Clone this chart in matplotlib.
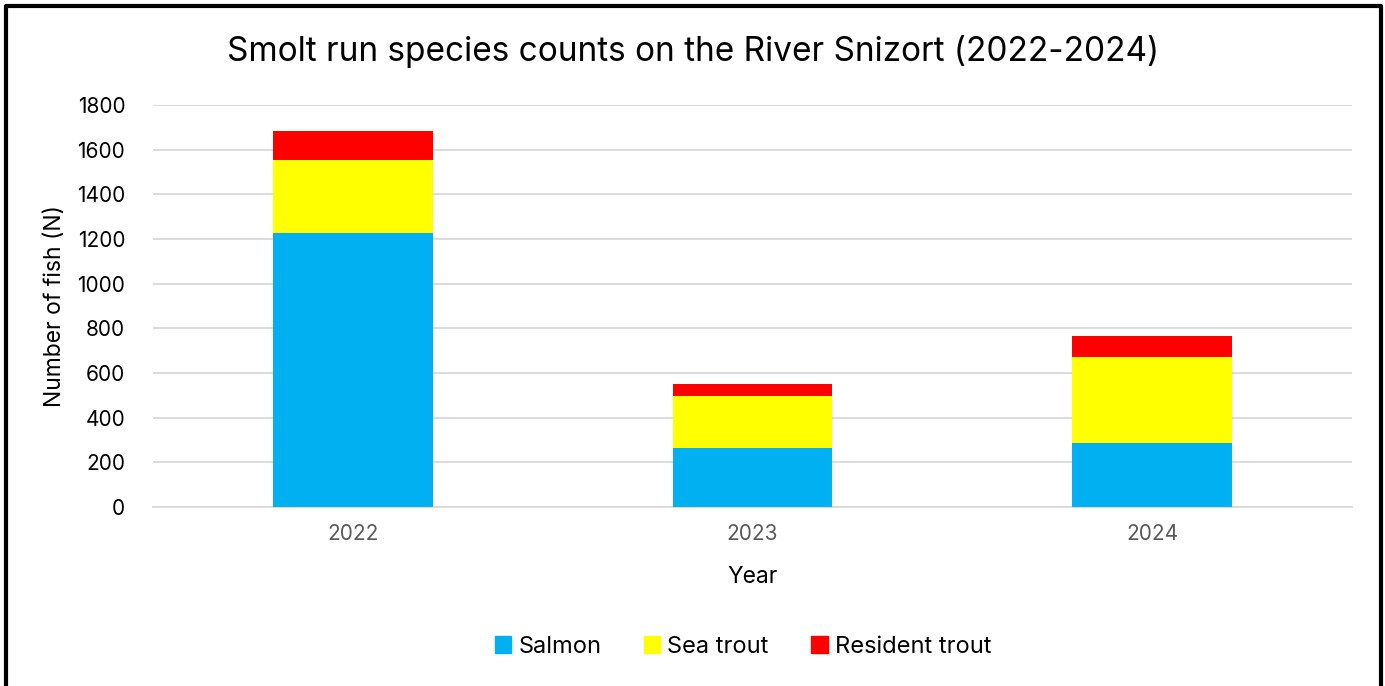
import matplotlib.pyplot as plt
import matplotlib.patches as mpatches
from matplotlib.lines import Line2D
import numpy as np

plt.rcParams['font.family'] = ['Inter', 'DejaVu Sans']

years = ['2022', '2023', '2024']
salmon = [1228, 266, 288]
sea_trout = [327, 229, 382]
resident_trout = [127, 55, 96]

colors = ['#00B0F0', '#FFFF00', '#FF0000']
labels = ['Salmon', 'Sea trout', 'Resident trout']

W, H = 1385, 686
fig = plt.figure(figsize=(W / 100, H / 100), dpi=100)
ax = fig.add_axes([153 / W, 1 - 507 / H, (1352 - 153) / W, (507 - 105) / H])

x = np.arange(len(years))
bottom = np.zeros(len(years))
for vals, c, lab in zip([salmon, sea_trout, resident_trout], colors, labels):
    ax.bar(x, vals, 0.4, bottom=bottom, color=c, label=lab, zorder=3)
    bottom += np.array(vals)

ax.set_xlim(-0.5, 2.5)
ax.set_ylim(0, 1800)
ax.set_yticks(range(0, 1801, 200))
ax.set_xticks(x)
ax.set_xticklabels(years)
ax.grid(axis='y', color='#d9d9d9', linewidth=1.3, zorder=0)
for s in ['top', 'right', 'left']:
    ax.spines[s].set_visible(False)
ax.spines['bottom'].set_color('#d9d9d9')
ax.spines['bottom'].set_linewidth(1.3)
ax.tick_params(length=0)
ax.tick_params(axis='y', labelsize=15, colors='black', pad=20)
ax.tick_params(axis='x', labelsize=15, labelcolor='#595959', pad=12)

ax.set_xlabel('Year', fontsize=16.5, labelpad=16)
ax.set_ylabel('Number of fish (N)', fontsize=16.5, labelpad=8)
fig.text(693 / W, 1 - 52 / H, 'Smolt run species counts on the River Snizort (2022-2024)',
         ha='center', va='center', fontsize=24)

handles = [mpatches.Patch(color=c) for c in colors]
fig.legend(handles, labels, loc='center', bbox_to_anchor=(743 / W, 1 - 647 / H),
           ncol=3, frameon=False, fontsize=17, handlelength=0.7, handleheight=0.7,
           handletextpad=0.3, columnspacing=1.8)

# open frame: left, top and right edges
fx = [5.5 / W, 5.5 / W, 1381 / W, 1381 / W]
fy = [0, 1 - 5.5 / H, 1 - 5.5 / H, 0]
fig.lines.append(Line2D(fx, fy, transform=fig.transFigure, color='black', linewidth=3))

fig.savefig('out.png', dpi=100)
